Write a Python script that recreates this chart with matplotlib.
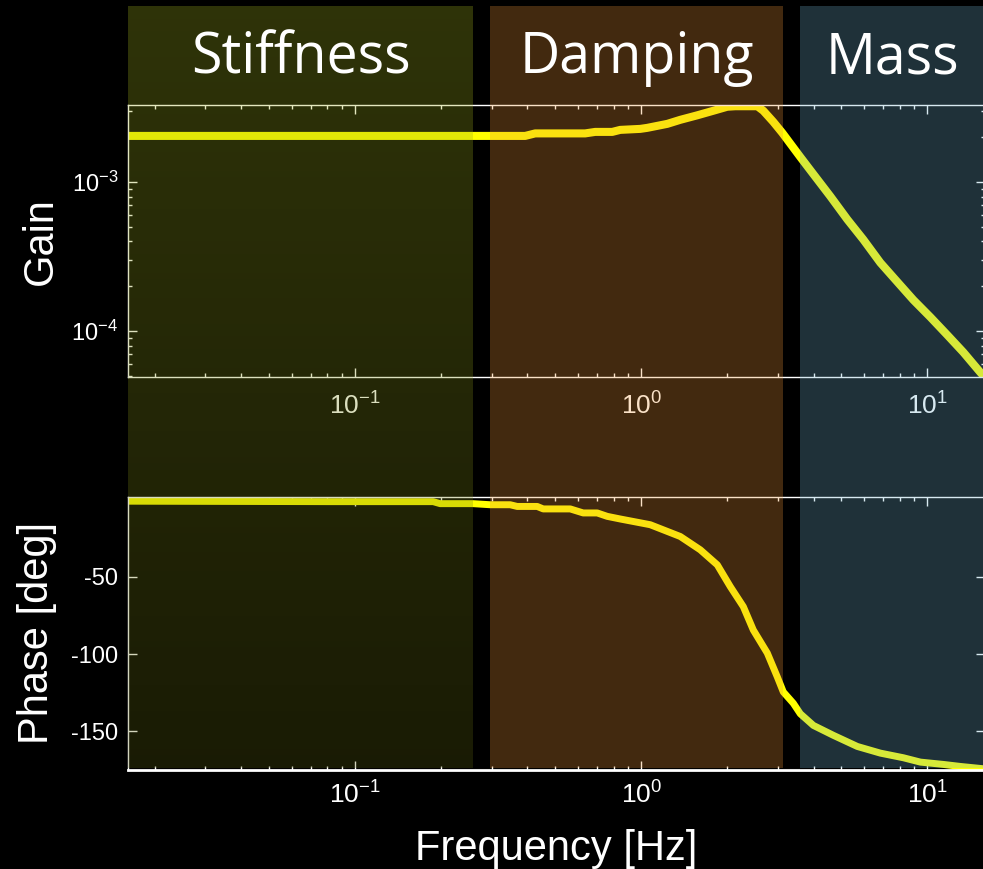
import numpy as np
import matplotlib
matplotlib.use("Agg")
import matplotlib.pyplot as plt
from matplotlib.patches import Rectangle
from matplotlib import transforms as mtransforms
from matplotlib.ticker import LogLocator, FixedLocator, NullFormatter, NullLocator

plt.rcParams['font.family'] = ['Liberation Sans', 'DejaVu Sans']
plt.rcParams['mathtext.fontset'] = 'custom'
plt.rcParams['mathtext.rm'] = 'Liberation Sans'
plt.rcParams['mathtext.it'] = 'Liberation Sans:italic'
plt.rcParams['mathtext.default'] = 'regular'
plt.rcParams['axes.unicode_minus'] = False

# ---------------- data ----------------
gain_freq = [0.01608, 0.0642, 0.2524, 0.3930, 0.4260, 0.6369, 0.6904, 0.7919,
             0.8444, 0.992, 1.049, 1.233, 1.369, 1.570, 1.785, 1.998, 2.132,
             2.545, 2.671, 2.894, 3.112, 3.597, 3.995, 4.580, 5.252, 5.973,
             6.850, 7.855, 8.934, 10.24, 11.75, 13.36, 15.32, 16.61]
gain_mag = [2.046e-3, 2.046e-3, 2.046e-3, 2.046e-3, 2.127e-3, 2.127e-3, 2.177e-3,
            2.177e-3, 2.246e-3, 2.281e-3, 2.317e-3, 2.465e-3, 2.624e-3, 2.814e-3,
            3.018e-3, 3.212e-3, 3.237e-3, 3.237e-3, 3.018e-3, 2.544e-3, 2.144e-3,
            1.476e-3, 1.133e-3, 8.04e-4, 5.62e-4, 4.12e-4, 2.88e-4, 2.14e-4,
            1.62e-4, 1.243e-4, 9.40e-5, 7.21e-5, 5.28e-5, 4.45e-5]

phase_freq = [0.01608, 0.0818, 0.1874, 0.1983, 0.2586, 0.2965, 0.3483, 0.3685,
              0.4329, 0.4544, 0.5647, 0.6268, 0.7018, 0.7606, 0.8444, 1.075,
              1.369, 1.608, 1.844, 2.048, 2.274, 2.464, 2.758, 2.989, 3.137,
              3.400, 3.597, 3.995, 4.692, 5.691, 6.850, 8.245, 9.452, 11.37,
              13.04, 15.70, 16.61]
phase_deg = [-1.3, -1.6, -1.6, -2.9, -2.9, -3.6, -3.6, -4.7, -4.7, -6.3, -6.3,
             -8.9, -8.9, -11.1, -12.8, -16.5, -24.1, -32.7, -42.4, -56.5, -69.4,
             -84.5, -99.4, -114.8, -124.5, -131.8, -138.6, -146.1, -152.5,
             -159.7, -164.0, -167.0, -169.8, -171.3, -172.6, -174.1, -174.6]

region_names = ["Stiffness", "Damping", "Mass"]
region_lo_hz = [0.01608, 0.2965, 3.597]
region_hi_hz = [0.2586, 3.137, 15.9]

freq_lim = (0.01608, 15.9)
gain_lim = (4.92e-5, 3.30e-3)
phase_lim = (-174.9, 1.4)
phase_ticks = [-150, -100, -50]

# ---------------- figure ----------------
W, H = 983, 869
fig = plt.figure(figsize=(W / 100, H / 100), dpi=100, facecolor='black')

def fx(px):
    return px / W

def fy(py):
    return 1 - py / H

L, R = fx(128), fx(985)
ax_g = fig.add_axes([L, fy(377), R - L, (377 - 105) / H])
ax_p = fig.add_axes([L, fy(770), R - L, (770 - 497) / H])

line_col = '#FFFF00'
ax_g.plot(gain_freq, gain_mag, color=line_col, lw=5.8, solid_joinstyle='round')
ax_p.plot(phase_freq, phase_deg, color=line_col, lw=5.0, solid_joinstyle='round')

for ax in (ax_g, ax_p):
    ax.set_facecolor('black')
    ax.set_xscale('log')
    ax.set_xlim(*freq_lim)
    ax.xaxis.set_major_locator(LogLocator(base=10))
    ax.xaxis.set_minor_locator(LogLocator(base=10, subs=np.arange(2, 10)))
    ax.xaxis.set_minor_formatter(NullFormatter())
    for s in ax.spines.values():
        s.set_color('white')
        s.set_linewidth(1.0)
    ax.tick_params(which='both', direction='in', top=True, right=True,
                   colors='white', labelsize=17, width=1.0)
    ax.tick_params(which='major', length=6.5)
    ax.tick_params(which='minor', length=3.2)
    ax.tick_params(axis='y', pad=7)
    ax.tick_params(axis='x', labelsize=19)

ax_g.set_yscale('log')
ax_g.set_ylim(*gain_lim)
ax_g.yaxis.set_major_locator(LogLocator(base=10))
ax_g.yaxis.set_minor_locator(LogLocator(base=10, subs=np.arange(2, 10)))
ax_g.yaxis.set_minor_formatter(NullFormatter())
ax_g.tick_params(axis='x', pad=11)

ax_p.set_ylim(*phase_lim)
ax_p.yaxis.set_major_locator(FixedLocator(phase_ticks))
ax_p.yaxis.set_minor_locator(NullLocator())
ax_p.tick_params(axis='x', pad=8)
ax_p.spines['bottom'].set_linewidth(2.0)

# axis labels
fig.text(fx(41), fy(241), 'Gain', rotation=90, ha='center', va='center',
         color='white', fontsize=30)
fig.text(fx(37), fy(633), 'Phase [deg]', rotation=90, ha='center', va='center',
         color='white', fontsize=30)
fig.text(fx(556), fy(849), 'Frequency [Hz]', ha='center', va='center',
         color='white', fontsize=30)

# ---------------- translucent region overlays ----------------
trans = mtransforms.blended_transform_factory(ax_p.transData, fig.transFigure)
y_top, y_bot = fy(6), fy(768)
alpha = 0.28

# stiffness: vertical gradient
top_c = np.array([168, 185, 30]) / 255
bot_c = np.array([92, 98, 16]) / 255
n = 120
edges = np.linspace(y_bot, y_top, n + 1)
for i in range(n):
    t = (edges[i] + edges[i + 1]) / 2
    u = (t - y_bot) / (y_top - y_bot)
    c = bot_c + (top_c - bot_c) * u
    fig.add_artist(Rectangle((region_lo_hz[0], edges[i]),
                             region_hi_hz[0] - region_lo_hz[0], edges[i + 1] - edges[i],
                             transform=trans, facecolor=c, alpha=alpha, lw=0,
                             antialiased=False, zorder=10))

region_cols = [None, '#EF9639', '#72B3CF']
for lo, hi, col in zip(region_lo_hz[1:], region_hi_hz[1:], region_cols[1:]):
    fig.add_artist(Rectangle((lo, y_bot), hi - lo, y_top - y_bot, transform=trans,
                             facecolor=col, alpha=alpha, lw=0, zorder=10))

for name, lo, hi in zip(region_names, region_lo_hz, region_hi_hz):
    xc = np.sqrt(lo * hi)
    fig.text(xc, fy(73), name, transform=trans, ha='center', va='baseline',
             color='white', fontsize=40, family=['Open Sans', 'DejaVu Sans'],
             zorder=20)

fig.savefig('out.png', dpi=100, facecolor='black')
